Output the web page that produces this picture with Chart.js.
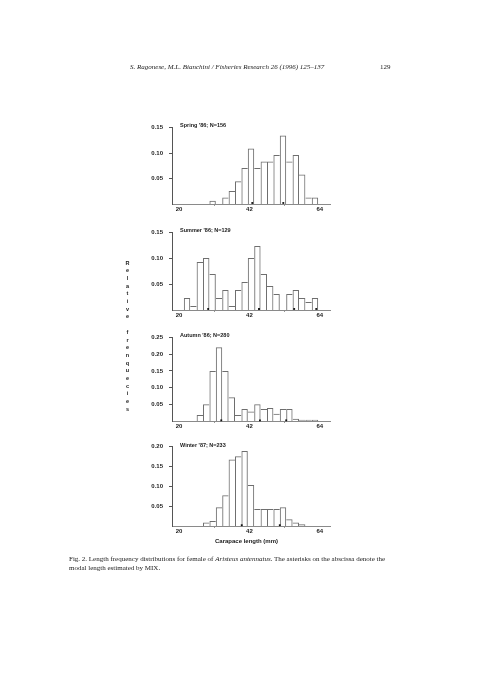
<!DOCTYPE html>
<html><head><meta charset="utf-8">
<script src="https://cdn.jsdelivr.net/npm/chart.js@4.4.1/dist/chart.umd.min.js"></script>
<style>
html,body{margin:0;padding:0;background:#fff;}
body{width:480px;height:679px;position:relative;overflow:hidden;}
.t{position:absolute;white-space:nowrap;color:#1a1a1a;filter:grayscale(1);-webkit-font-smoothing:antialiased;}
.serif{font-family:"Liberation Serif","DejaVu Serif",serif;}
.sans{font-family:"Liberation Sans",Arial,sans-serif;font-weight:bold;}
canvas{position:absolute;left:0;}
</style></head><body>
<div class="t serif" style="left:130px;top:63px;font-size:7px;font-style:italic;">S. Ragonese, M.L. Bianchini / Fisheries Research 26 (1996) 125–137</div>
<div class="t serif" style="left:380px;top:63px;font-size:7px;">129</div>
<div class="t sans" style="left:124px;top:259.5px;font-size:5.5px;line-height:7.7px;text-align:center;width:7px;">R<br>e<br>l<br>a<br>t<br>i<br>v<br>e<br><br>f<br>r<br>e<br>n<br>q<br>u<br>e<br>c<br>i<br>e<br>s</div>
<div class="t serif" style="left:69px;top:554.5px;font-size:7px;line-height:9px;">Fig. 2. Length frequency distributions for female of <i>Aristeus antennatus</i>. The asterisks on the abscissa denote the<br>modal length estimated by MIX.</div>
<div class="t sans" style="left:215px;top:537.5px;font-size:6px;">Carapace length (mm)</div>
<script>
// ---- data ----
const binCenters = [20.5,22.5,24.5,26.5,28.5,30.5,32.5,34.5,36.5,38.5,40.5,42.5,44.5,46.5,48.5,50.5,52.5,54.5,56.5,58.5,60.5,62.5,64.5];
const springFreq = [0,0,0,0,0,0.0064,0,0.0128,0.0256,0.0449,0.0705,0.109,0.0705,0.0833,0.0833,0.0962,0.1346,0.0833,0.0962,0.0577,0.0128,0.0128,0];
const summerFreq = [0,0.0233,0.0078,0.093,0.1008,0.0698,0.0233,0.0388,0.0078,0.0388,0.0543,0.1008,0.124,0.0698,0.0465,0.031,0,0.031,0.0388,0.0233,0.0155,0.0233,0];
const autumnFreq = [0,0,0,0.0179,0.05,0.15,0.2214,0.15,0.0714,0.0179,0.0357,0.0286,0.05,0.0357,0.0393,0.0214,0.0357,0.0357,0.0071,0.0036,0.0036,0.0036,0];
const winterFreq = [0,0,0,0,0.0086,0.0129,0.0472,0.0773,0.1674,0.176,0.1888,0.103,0.0429,0.0429,0.0429,0.0429,0.0472,0.0172,0.0086,0.0043,0,0,0];
const springModes = [42.9,52.6];
const summerModes = [29.1,45.0,56.0,62.9];
const autumnModes = [33.2,45.3,53.5];
const winterModes = [39.6,51.5];
const xTickValues = [20,42,64];
const yTicks15 = [0.05,0.10,0.15];
const yTicks25 = [0.05,0.10,0.15,0.20,0.25];
const yTicks20 = [0.05,0.10,0.15,0.20];
const titles = ["Spring '86; N=156","Summer '86; N=129","Autumn '86; N=280","Winter '87; N=233"];

const panels = [
  {title:titles[0], values:springFreq, modes:springModes, yt:yTicks15, max:0.15, top:125.7, bottom:204},
  {title:titles[1], values:summerFreq, modes:summerModes, yt:yTicks15, max:0.15, top:230.7, bottom:309.5},
  {title:titles[2], values:autumnFreq, modes:autumnModes, yt:yTicks25, max:0.25, top:335.7, bottom:420.5},
  {title:titles[3], values:winterFreq, modes:winterModes, yt:yTicks20, max:0.20, top:445.3, bottom:526.5}
];

const tickFont = {family:"'Liberation Sans', Arial, sans-serif", size:6, weight:'bold'};

function bw(ctx){
  const d = ctx.dataset.data, i = ctx.dataIndex;
  const cur = d[i].y, prev = i>0 ? d[i-1].y : 0, next = i<d.length-1 ? d[i+1].y : 0;
  if (!cur) return 0;
  return {top:1, bottom:0, left: prev<=cur ? 1 : 0, right: next<cur ? 1 : 0};
}

panels.forEach(p=>{
  const padTop = 8, xH = 12;
  const h = Math.round(p.bottom - p.top) + padTop + xH;
  const cv = document.createElement('canvas');
  cv.width = 480; cv.height = h;
  cv.style.width = '480px'; cv.style.height = h+'px';
  cv.style.top = (p.top - padTop) + 'px';
  document.body.appendChild(cv);
  const tdiv = document.createElement('div');
  tdiv.className = 't sans';
  tdiv.style.cssText = 'left:180px;top:'+(p.top-3.6)+'px;font-size:5.5px;';
  tdiv.textContent = p.title;
  document.body.appendChild(tdiv);
  new Chart(cv, {
    type:'bar',
    data:{datasets:[
      {type:'bar', data: binCenters.map((x,i)=>({x:x, y:p.values[i]})),
       backgroundColor:'rgba(0,0,0,0)', borderColor:'#6e6e6e', borderWidth:bw,
       borderSkipped:false, barPercentage:1, categoryPercentage:1, inflateAmount:0, order:2},
      {type:'scatter', data: p.modes.map(x=>({x:x, y:0.002})),
       pointStyle:'rect', radius:1.3, backgroundColor:'#111', borderColor:'#111', borderWidth:0, clip:false, order:1}
    ]},
    options:{
      responsive:false, animation:false, devicePixelRatio:1,
      layout:{padding:{left:100, right:150, top:padTop, bottom:0}},
      plugins:{legend:{display:false}, tooltip:{enabled:false}},
      scales:{
        x:{type:'linear', min:17.8, max:67.2, offset:false,
           grid:{display:true, drawOnChartArea:false, drawTicks:true, tickLength:2, color:'#999'},
           border:{display:true, color:'#8a8a8a', width:1},
           afterBuildTicks: s=>{ s.ticks = xTickValues.map(v=>({value:v})); },
           afterFit: s=>{ s.height = xH; },
           ticks:{font:tickFont, color:'#1a1a1a', padding:0, maxRotation:0, autoSkip:false, callback:v=>String(v)}},
        y:{type:'linear', min:0, max:p.max,
           grid:{display:true, drawOnChartArea:false, drawTicks:true, tickLength:3, color:'#555'},
           border:{display:true, color:'#555', width:1},
           afterBuildTicks: s=>{ s.ticks = p.yt.map(v=>({value:v})); },
           afterFit: s=>{ s.width = 72; },
           ticks:{font:tickFont, color:'#1a1a1a', padding:6, callback:v=>Number(v).toFixed(2)}}
      }
    }
  });
});
</script>
</body></html>
